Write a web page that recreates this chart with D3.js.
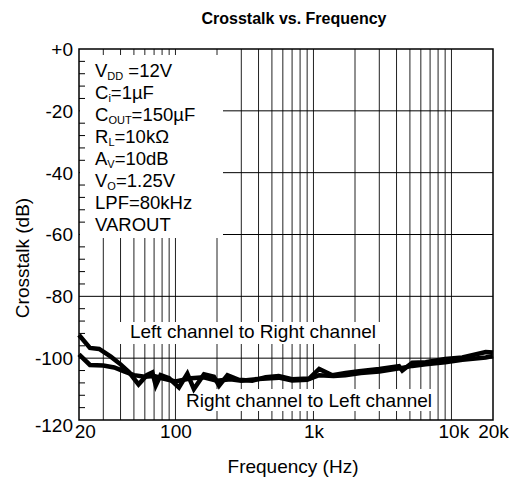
<!DOCTYPE html>
<html><head><meta charset="utf-8">
<script src="https://cdn.jsdelivr.net/npm/d3@7"></script>
<style>
html,body{margin:0;padding:0;background:#fff;}
svg text{font-family:"Liberation Sans",Arial,Helvetica,sans-serif;fill:#000;}
</style></head>
<body>
<svg id="c" width="513" height="482"></svg>
<script>
// ---- data ----
const yTickValues = [0, -20, -40, -60, -80, -100, -120];
const yTickLabels = ["+0", "-20", "-40", "-60", "-80", "-100", "-120"];
const xTickValues = [20, 100, 1000, 10000, 20000];
const xTickLabels = ["20", "100", "1k", "10k", "20k"];
const gridFreqs = [30,40,50,60,70,80,90,100,200,300,400,500,600,700,800,900,1000,2000,3000,4000,5000,6000,7000,8000,9000,10000];

const leftToRightFreq = [20,24,28,34,40,46,54,62,68,72,78,90,106,122,136,161,190,207,238,288,360,450,560,700,930,1100,1370,1710,2140,3000,4170,4400,5200,6500,9000,12000,17700,20000];
const leftToRightDb   = [-92.5,-96.7,-97,-99.5,-102,-104.5,-108.5,-105.5,-104.6,-108.8,-105.5,-106.5,-109.5,-105,-110,-105.2,-106,-108.9,-105.5,-107,-107.3,-106.2,-105.8,-106.8,-106.6,-103.5,-105.5,-104.8,-104.2,-103.5,-102.6,-104,-101.5,-101.3,-100.3,-99.8,-98,-98.2];

const rightToLeftFreq = [20,24,30,36,42,50,60,70,80,100,130,160,200,250,300,400,560,700,900,1100,1400,1700,2200,3000,4200,5200,6500,9000,12000,17700,20000];
const rightToLeftDb   = [-98.8,-102.2,-102.4,-103,-104.2,-105.5,-106,-105.8,-106.5,-107.5,-106.5,-106.2,-107.3,-106.8,-107.3,-106.7,-106.3,-107.2,-107,-105.5,-105.8,-105.5,-104.8,-104.3,-103.3,-102.5,-102,-101.3,-100.5,-99.8,-99.3];

const conditions = [
  ["V", "DD", " =12V"],
  ["C", "i", "=1\u00B5F"],
  ["C", "OUT", "=150\u00B5F"],
  ["R", "L", "=10k\u03A9"],
  ["A", "V", "=10dB"],
  ["V", "O", "=1.25V"],
  ["LPF=80kHz", "", ""],
  ["VAROUT", "", ""]
];

// ---- layout ----
const L = 79, R = 493, T = 49, B = 420;
const FS = 19;
const svg = d3.select("#c");
const x = d3.scaleLog().domain([20, 20000]).range([L, R]);
const y = d3.scaleLinear().domain([-120, 0]).range([B, T]);

// title
svg.append("text").attr("x", 294).attr("y", 24).attr("text-anchor", "middle")
  .attr("font-size", 16).attr("font-weight", "bold").text("Crosstalk vs. Frequency");

// vertical grid
svg.append("g").selectAll("line").data(gridFreqs).join("line")
  .attr("x1", d => x(d)).attr("x2", d => x(d)).attr("y1", T).attr("y2", B)
  .attr("stroke", "#222").attr("stroke-width", 1);

// horizontal grid
svg.append("g").selectAll("line").data([-20, -40, -60, -80, -100]).join("line")
  .attr("x1", L).attr("x2", R).attr("y1", d => y(d)).attr("y2", d => y(d))
  .attr("stroke", "#000").attr("stroke-width", 1);

// white boxes behind text
svg.append("rect").attr("x", L + 1).attr("y", 55).attr("width", 223 - L - 1).attr("height", 183).attr("fill", "#fff");
svg.append("rect").attr("x", 112).attr("y", 322).attr("width", 273).attr("height", 22).attr("fill", "#fff");
svg.append("rect").attr("x", 182).attr("y", 389).attr("width", 255).attr("height", 22).attr("fill", "#fff");

// minor ticks on left
const minor = d3.range(-116, 0, 4).filter(d => d % 20 !== 0);
svg.append("g").selectAll("line").data(minor).join("line")
  .attr("x1", L).attr("x2", L + 6).attr("y1", d => y(d)).attr("y2", d => y(d))
  .attr("stroke", "#000").attr("stroke-width", 1);

// frame
svg.append("rect").attr("x", L).attr("y", T).attr("width", R - L).attr("height", B - T)
  .attr("fill", "none").attr("stroke", "#000").attr("stroke-width", 1.5);

// axes (labels)
const yAxis = d3.axisLeft(y).tickValues(yTickValues)
  .tickFormat((d, i) => yTickLabels[i]).tickSize(0).tickPadding(6);
const gy = svg.append("g").attr("transform", `translate(${L},0)`).call(yAxis);
gy.select(".domain").remove();
gy.selectAll("text").attr("font-size", FS).attr("font-family", "Liberation Sans, Arial, sans-serif").attr("fill", "#000")
  .attr("dy", d => d === -120 ? "0.62em" : "0.34em");

const xAxis = d3.axisBottom(x).tickValues(xTickValues)
  .tickFormat((d, i) => xTickLabels[i]).tickSize(0).tickPadding(5);
const gx = svg.append("g").attr("transform", `translate(0,${B})`).call(xAxis);
gx.select(".domain").remove();
gx.selectAll("text").attr("font-size", FS).attr("font-family", "Liberation Sans, Arial, sans-serif").attr("fill", "#000")
  .attr("dx", d => d === 20 ? "0.3em" : (d === 10000 ? "0.1em" : 0));

// axis titles
svg.append("text").attr("x", 293).attr("y", 473).attr("text-anchor", "middle")
  .attr("font-size", FS).text("Frequency (Hz)");
svg.append("text").attr("transform", `translate(29,258) rotate(-90)`)
  .attr("text-anchor", "middle").attr("font-size", FS).text("Crosstalk (dB)");

// conditions text
const cond = svg.append("g");
conditions.forEach((c, i) => {
  const t = cond.append("text").attr("x", 95).attr("y", 77 + i * 22).attr("font-size", 18.5);
  t.append("tspan").text(c[0]);
  if (c[1]) {
    t.append("tspan").attr("font-size", 11).attr("dy", 3).text(c[1]);
    t.append("tspan").attr("dy", -3).text(c[2]);
  }
});

// curve labels
svg.append("text").attr("x", 253).attr("y", 338).attr("text-anchor", "middle")
  .attr("font-size", FS).text("Left channel to Right channel");
svg.append("text").attr("x", 309).attr("y", 407).attr("text-anchor", "middle")
  .attr("font-size", FS).text("Right channel to Left channel");

// curves
const line = d3.line().x(d => x(d[0])).y(d => y(d[1]));
const s1 = leftToRightFreq.map((f, i) => [f, leftToRightDb[i]]);
const s2 = rightToLeftFreq.map((f, i) => [f, rightToLeftDb[i]]);
[s1, s2].forEach(s => {
  svg.append("path").datum(s).attr("d", line).attr("fill", "none")
    .attr("stroke", "#000").attr("stroke-width", 4.5).attr("stroke-linejoin", "miter");
});
</script>
</body></html>
